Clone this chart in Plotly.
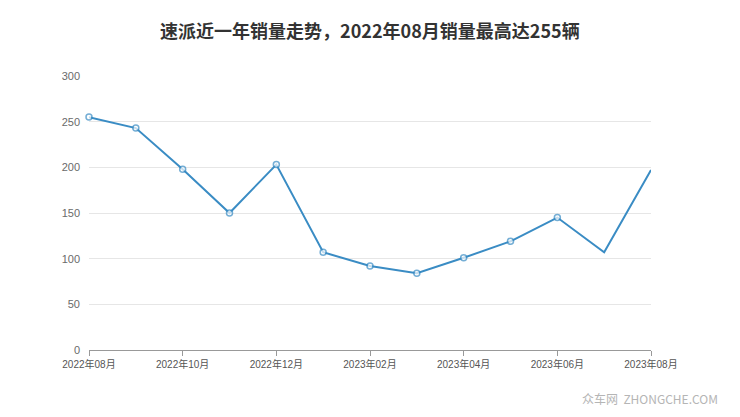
import plotly.graph_objects as go

months = ["2022年08月", "2022年09月", "2022年10月", "2022年11月", "2022年12月",
          "2023年01月", "2023年02月", "2023年03月", "2023年04月", "2023年05月",
          "2023年06月", "2023年07月", "2023年08月"]
sales = [255, 243, 198, 150, 203, 107, 92, 84, 101, 119, 145, 107, 197]
tick_labels = months[::2]
title = "速派近一年销量走势，2022年08月销量最高达255辆"

marker_sizes = [6] * (len(months) - 2) + [0, 0]

fig = go.Figure(go.Scatter(
    x=months, y=sales, mode="lines+markers",
    line=dict(color="#3a8cc4", width=2),
    marker=dict(size=marker_sizes, color="white", line=dict(color="#3a8cc4", width=1.5)),
    cliponaxis=False,
))

fig.update_layout(
    width=740, height=417,
    margin=dict(l=81, r=97, t=68, b=75),
    paper_bgcolor="white", plot_bgcolor="white",
    font=dict(family="Noto Sans CJK SC, Liberation Sans, sans-serif", color="#666"),
    title=dict(text=title, x=0.489, xanchor="center", xref="container",
               y=0.942, yanchor="middle",
               font=dict(size=18, color="#333", family="Noto Sans CJK SC, sans-serif", weight="bold")),
    showlegend=False,
    xaxis=dict(type="category", range=[0, len(months) - 1], tickvals=tick_labels,
               ticktext=tick_labels, showgrid=False, showline=True, linecolor="#999",
               linewidth=1, ticks="outside", ticklen=5, tickcolor="#999",
               tickfont=dict(size=10, color="#555", family="Liberation Sans, Noto Sans CJK SC")),
    yaxis=dict(range=[0, 300], dtick=50, showgrid=True, gridcolor="#e6e6e6", gridwidth=1,
               zeroline=False, showline=False, ticks="", ticklabelstandoff=8,
               tickfont=dict(size=11, color="#6a6a6a", family="Liberation Sans")),
)

fig.add_annotation(text="众车网  ZHONGCHE.COM", xref="paper", yref="paper",
                   x=1.0, y=0, xanchor="right", yanchor="middle", yshift=-48, xshift=69,
                   showarrow=False, font=dict(size=12, color="#b5b5b5", family="Noto Sans CJK SC"))

fig.write_html("out.html")
